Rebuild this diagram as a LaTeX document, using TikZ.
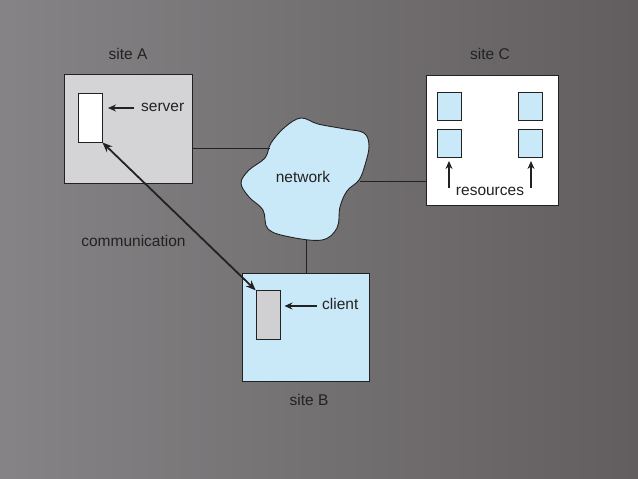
\documentclass[tikz,border=0pt]{standalone}
\usepackage{fontspec}
\setmainfont{Liberation Sans}
\usetikzlibrary{arrows.meta}
\definecolor{bgA}{HTML}{858385}
\definecolor{bgB}{HTML}{625E60}
\definecolor{siteAfill}{HTML}{D4D4D6}
\definecolor{blu}{HTML}{C9E9F8}
\definecolor{clientfill}{HTML}{D0D0D2}
\definecolor{ink}{HTML}{222222}
\tikzset{
  box/.style={draw=ink, line width=0.9pt},
  lbl/.style={font=\fontsize{15.5}{17}\selectfont, text=ink, inner sep=0pt},
  link/.style={draw=ink, line width=0.8pt},
  ptr/.style={draw=ink, line width=2pt, -{Stealth[length=8pt,width=7pt]}},
}
\begin{document}
\begin{tikzpicture}[x=1pt,y=-1pt]
\shade[left color=bgA, right color=bgB] (0,0) rectangle (638,479);
\useasboundingbox (0,0) rectangle (638,479);

% site A
\node[box, fill=siteAfill, minimum width=128pt, minimum height=109pt, anchor=north west, inner sep=0pt] (siteA) at (64,74) {};
\node[box, fill=white, minimum width=24pt, minimum height=49pt, anchor=north west, inner sep=0pt] (server) at (77.5,92.5) {};
\node[lbl, anchor=west] (serverl) at (141,107) {server};
\coordinate (sa1) at (134,108);
\coordinate (sa2) at (108,108);
\draw[ptr] (sa1) -- (sa2);
\node[lbl] (sitea) at (128,54) {site A};

% network cloud
\draw[box, fill=blu] plot[smooth cycle, tension=0.6] coordinates {
 (301,118) (318,124) (345,129) (364,133) (369,146) (365,165) (359,180) (347,191)
 (340,207) (337,228) (322,240) (290,237) (268,229) (263,210) (249,197) (241,183)
 (249,170) (265,158) (271,143) (285,127)};
\node[lbl] (network) at (303,177) {network};

% site C
\node[box, fill=white, minimum width=132pt, minimum height=130pt, anchor=north west, inner sep=0pt] (siteC) at (425.5,74.5) {};
\foreach \n/\x/\y in {r1/436.7/92.3, r2/436.7/129.3, r3/518.3/92.3, r4/518.3/129.3}
  \node[box, fill=blu, minimum width=24pt, minimum height=28pt, anchor=north west, inner sep=0pt] (\n) at (\x,\y) {};
\node[lbl] (resl) at (490,191) {resources};
\coordinate (ra1) at (449,188); \coordinate (ra2) at (449,161);
\coordinate (rb1) at (531,188); \coordinate (rb2) at (531,161);
\draw[ptr] (ra1) -- (ra2);
\draw[ptr] (rb1) -- (rb2);
\node[lbl] (sitec) at (490,54) {site C};

% site B
\node[box, fill=blu, minimum width=127pt, minimum height=108pt, anchor=north west, inner sep=0pt] (siteB) at (241.5,273) {};
\node[box, fill=clientfill, minimum width=24pt, minimum height=49pt, anchor=north west, inner sep=0pt] (client) at (255.7,290.3) {};
\node[lbl, anchor=west] (clientl) at (322,304) {client};
\coordinate (cb1) at (316.5,306);
\coordinate (cb2) at (284.5,306);
\draw[ptr] (cb1) -- (cb2);
\node[lbl] (siteb) at (309,400) {site B};

% links
\coordinate (nA) at (270,148.7);
\coordinate (nC) at (360,181.3);
\coordinate (nB) at (306.7,240);
\draw[link] (siteA.east |- nA) -- (nA);
\draw[link] (nC) -- (siteC.west |- nC);
\draw[link] (nB) -- (nB |- siteB.north);

% communication
\draw[draw=ink, line width=1.8pt, {Stealth[length=10pt,width=8pt]}-{Stealth[length=10pt,width=8pt]}] (server.south east) -- (client.north west);
\node[lbl] (comm) at (133.5,241) {communication};
\end{tikzpicture}
\end{document}
